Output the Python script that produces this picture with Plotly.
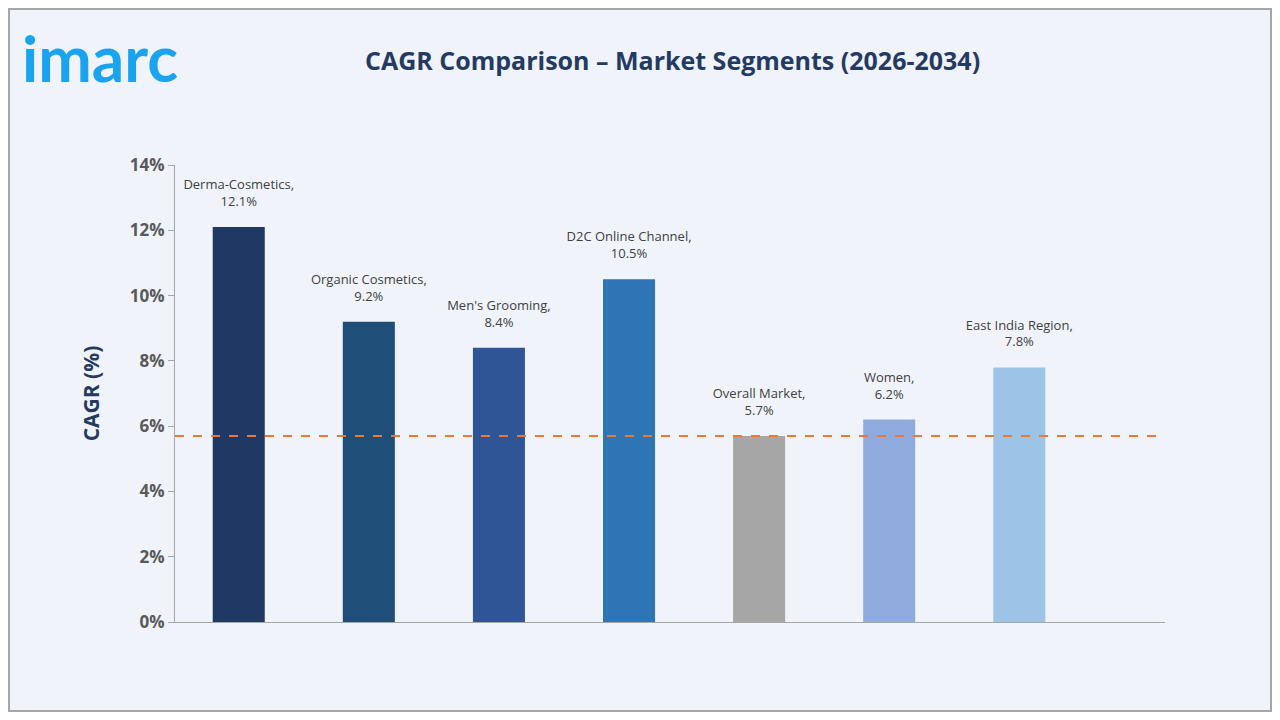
import plotly.graph_objects as go

segments = ["Derma-Cosmetics", "Organic Cosmetics", "Men's Grooming", "D2C Online Channel",
            "Overall Market", "Women", "East India Region"]
cagr = [12.1, 9.2, 8.4, 10.5, 5.7, 6.2, 7.8]
bar_colors = ["#1f3864", "#1f4e79", "#2f5597", "#2e75b6", "#a6a6a6", "#8faadc", "#9dc3e6"]
overall = 5.7
y_ticks = [0, 2, 4, 6, 8, 10, 12, 14]

# trailing line break lifts the label a little off the bar top
labels = [f"{s},<br>{v}%<br><span style='font-size:5px'> </span>" for s, v in zip(segments, cagr)]

W, H = 1264, 704
L, R, T, B = 167, 107, 157, 90
pw, ph = W - L - R, H - T - B

fig = go.Figure()
fig.add_trace(go.Bar(
    x=list(range(len(segments))), y=cagr, width=0.4,
    marker=dict(color=bar_colors, line_width=0),
    text=labels, textposition="outside", cliponaxis=False, constraintext="none",
    textfont=dict(family="Open Sans", size=13, color="#404040"),
))

fig.update_layout(
    width=W, height=H,
    paper_bgcolor="#f0f4fa", plot_bgcolor="#f0f4fa",
    margin=dict(l=L, r=R, t=T, b=B),
    showlegend=False,
    font=dict(family="Open Sans"),
    uniformtext=dict(minsize=13, mode="show"),
    annotations=[
        dict(text="<b>imarc</b>", xref="paper", yref="paper", x=(12 - L) / pw, y=(H - B - 50) / ph,
             xanchor="left", yanchor="middle", showarrow=False,
             font=dict(family="Lato", size=64, color="#1aa3ef")),
        dict(text="<b>CAGR Comparison – Market Segments (2026-2034)</b>", xref="paper", yref="paper",
             x=(664 - L) / pw, y=(H - B - 52) / ph, xanchor="center", yanchor="middle", showarrow=False,
             font=dict(family="Open Sans", size=25, color="#243a63")),
    ],
)
fig.add_shape(type="rect", xref="paper", yref="paper",
              x0=(-L + 1) / pw, x1=(W - L - 1) / pw, y0=(-B + 1) / ph, y1=(H - B - 1) / ph,
              line=dict(color="#a6a6a6", width=2))
fig.add_hline(y=overall, line=dict(color="#e8793a", width=2, dash="dash"))
fig.update_xaxes(range=[-0.49, 7.12], showticklabels=False, showgrid=False,
                 showline=True, linecolor="#a6a6a6", linewidth=1, zeroline=False)
fig.update_yaxes(range=[0, 14], tickvals=y_ticks, ticktext=[f"<b>{t}%</b>" for t in y_ticks],
                 tickfont=dict(size=17, color="#595959"), showgrid=False, zeroline=False,
                 showline=True, linecolor="#a6a6a6", ticks="outside", ticklen=6, tickcolor="#a6a6a6",
                 title=dict(text="<b>CAGR (%)</b>", font=dict(size=21, color="#243a63"), standoff=24))

fig.write_html("out.html")
